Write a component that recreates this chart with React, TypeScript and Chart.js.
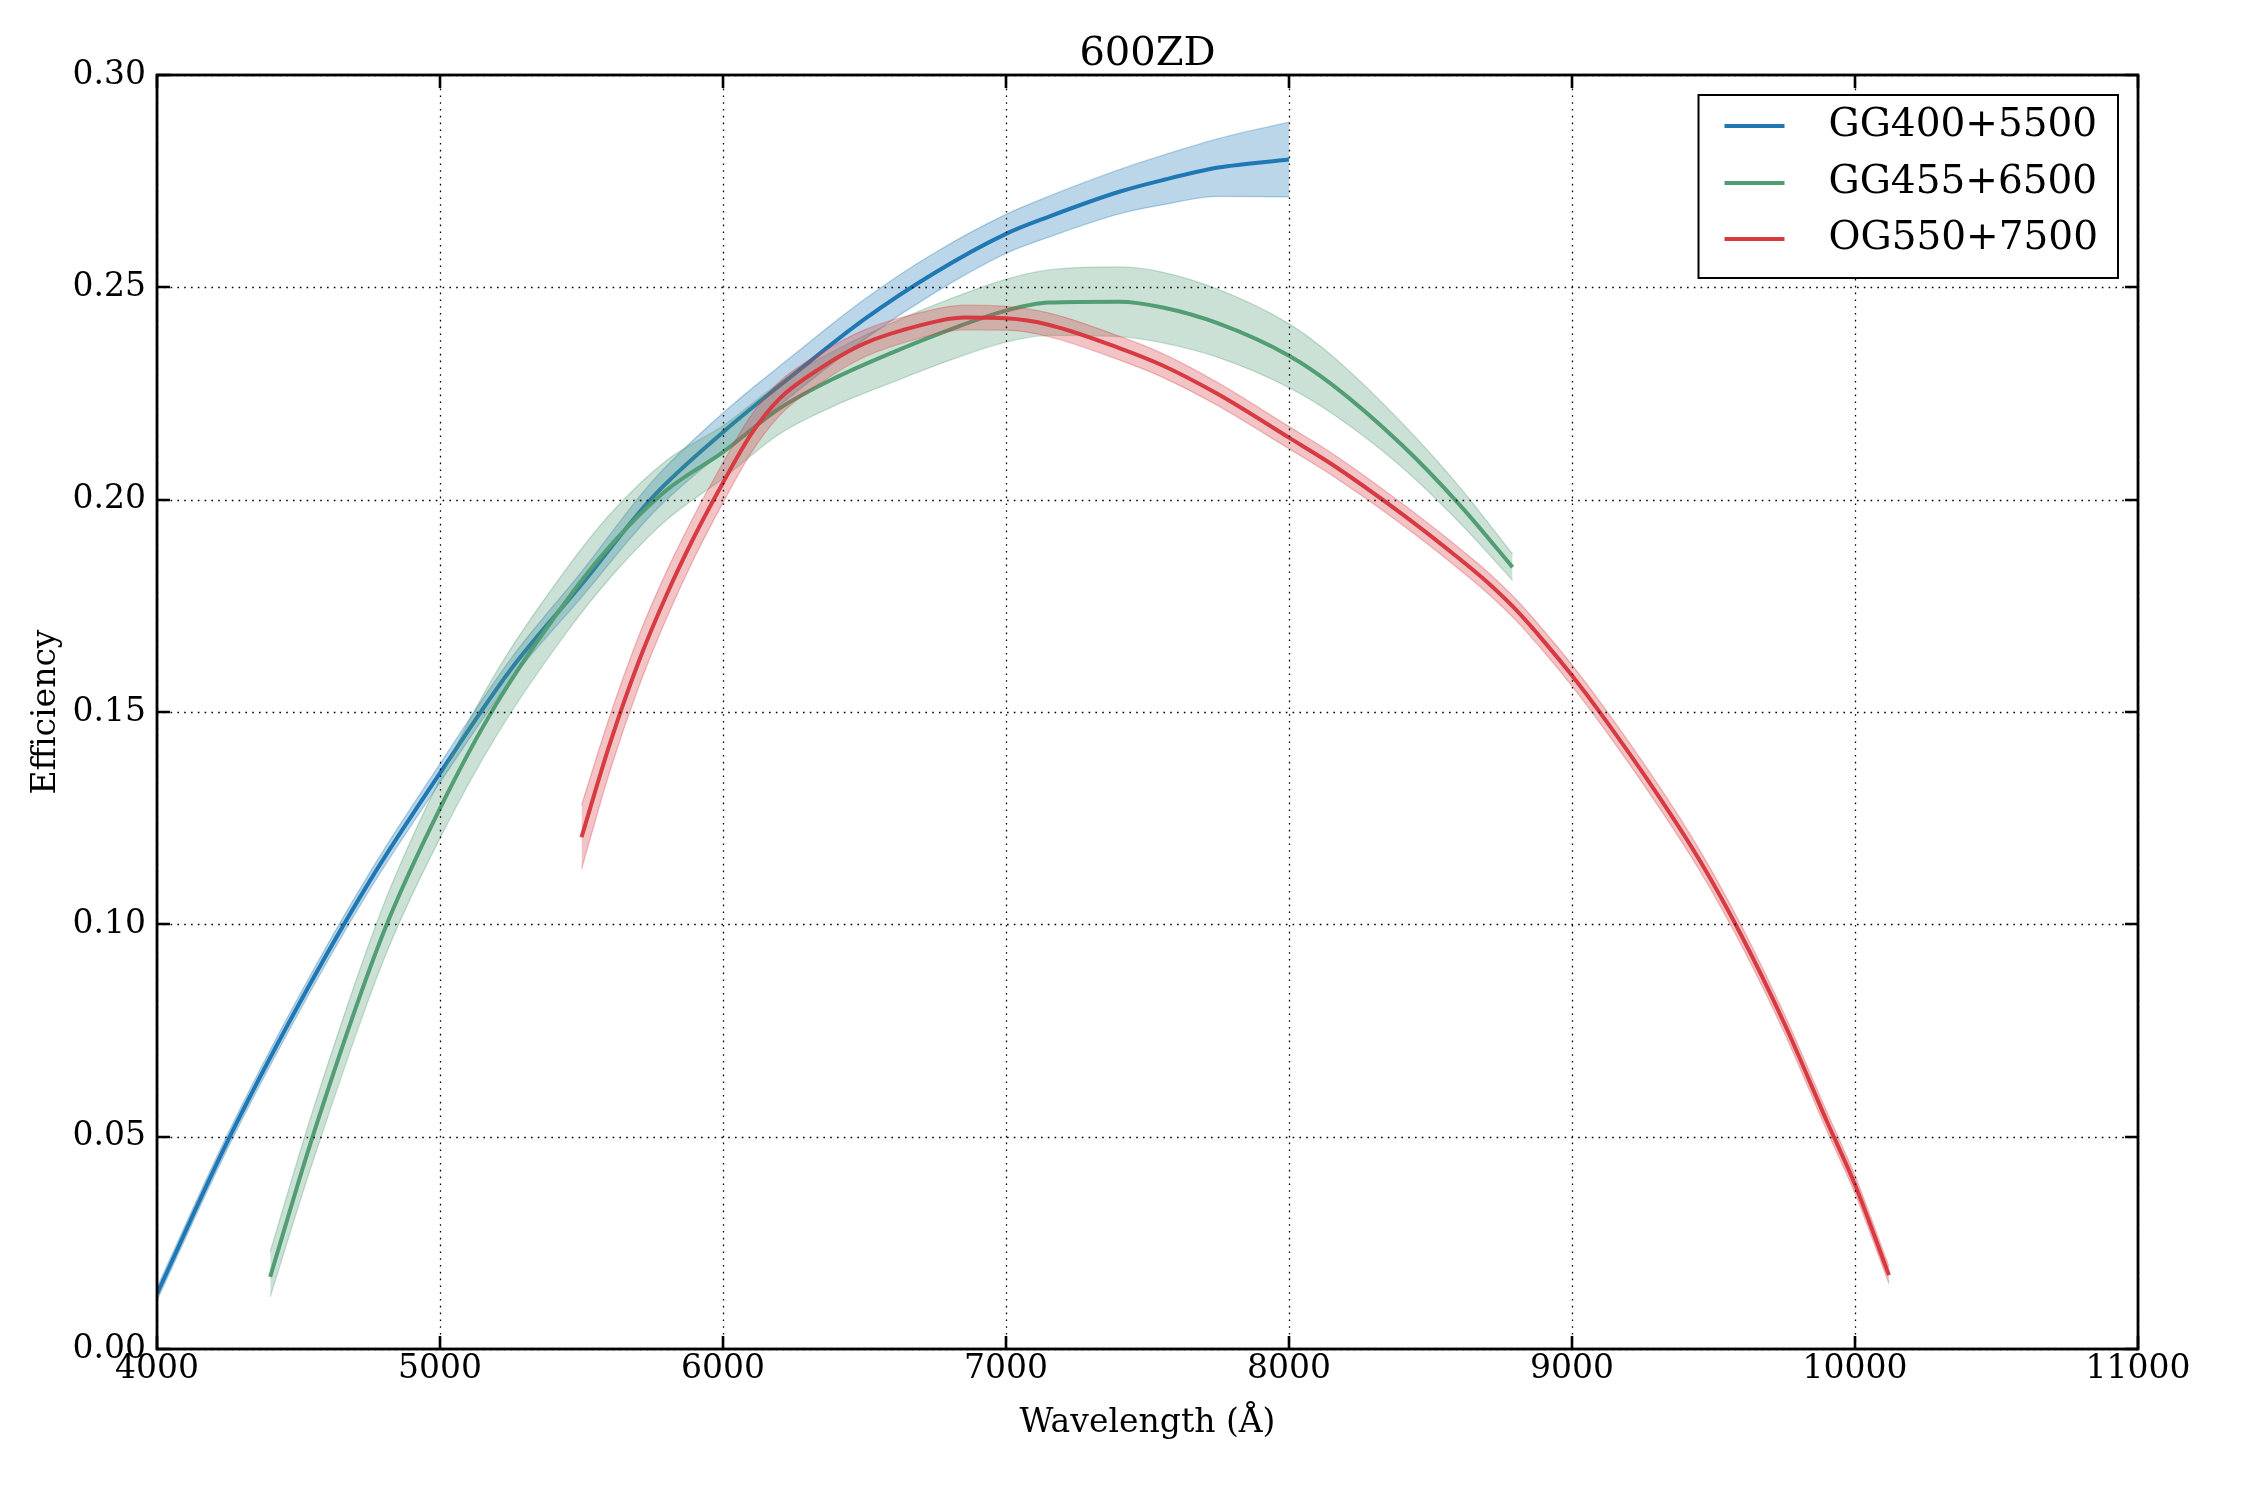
import React, { useEffect, useRef } from "react";
import { Chart, registerables } from "chart.js";

Chart.register(...registerables);

const TITLE = "600ZD";
const X_LABEL = "Wavelength (Å)";
const Y_LABEL = "Efficiency";
const SERIES_NAMES = ["GG400+5500", "GG455+6500", "OG550+7500"];
const LINE_COLORS = ["#1f77b4", "#529d74", "#d73a41"];
const BAND_COLORS = ["rgba(31,119,180,0.3)", "rgba(82,157,116,0.3)", "rgba(215,58,65,0.3)"];
const EDGE_COLORS = ["rgba(31,119,180,0.32)", "rgba(82,157,116,0.32)", "rgba(215,58,65,0.32)"];

const X_MIN = 4000;
const X_MAX = 11000;
const X_STEP = 1000;
const Y_MIN = 0;
const Y_MAX = 0.3;
const Y_STEP = 0.05;

// GG400+5500
const blueWavelength = [4000, 4250, 4500, 4750, 5000, 5250, 5500, 5750, 6000, 6250, 6500, 6750, 7000, 7150, 7400, 7550, 7750, 8000];
const blueEfficiency = [0.013, 0.049, 0.081, 0.11, 0.1356, 0.16, 0.18, 0.2005, 0.2159, 0.2295, 0.2425, 0.2535, 0.2626, 0.2666, 0.2725, 0.2752, 0.2782, 0.2801];
const blueUpper = [0.0145, 0.0507, 0.0829, 0.112, 0.1378, 0.1625, 0.183, 0.2043, 0.2204, 0.2341, 0.2472, 0.2582, 0.2672, 0.2714, 0.2777, 0.281, 0.285, 0.2889];
const blueLower = [0.0115, 0.0473, 0.0791, 0.108, 0.1334, 0.1575, 0.177, 0.1967, 0.2114, 0.2249, 0.2378, 0.2488, 0.258, 0.2618, 0.2673, 0.2694, 0.2714, 0.2713];

// GG455+6500
const greenWavelength = [4400, 4550, 4800, 5000, 5200, 5450, 5600, 5800, 6000, 6200, 6400, 6600, 6800, 7000, 7150, 7400, 7550, 7750, 8000, 8150, 8400, 8600, 8790];
const greenEfficiency = [0.017, 0.05, 0.098, 0.1273, 0.152, 0.1765, 0.189, 0.2022, 0.2112, 0.2215, 0.2288, 0.2347, 0.24, 0.2445, 0.2464, 0.2466, 0.2453, 0.2415, 0.2339, 0.2272, 0.2128, 0.199, 0.1841];
const greenUpper = [0.0229, 0.056, 0.1045, 0.1343, 0.1595, 0.184, 0.1965, 0.2092, 0.2174, 0.2275, 0.2353, 0.2417, 0.2472, 0.2519, 0.2541, 0.2548, 0.2536, 0.2495, 0.2414, 0.234, 0.218, 0.2032, 0.1872];
const greenLower = [0.0123, 0.044, 0.0915, 0.1203, 0.1445, 0.169, 0.1815, 0.1952, 0.205, 0.2155, 0.2223, 0.2277, 0.2328, 0.2371, 0.2387, 0.2384, 0.237, 0.2335, 0.2264, 0.2204, 0.2076, 0.1948, 0.181];

// OG550+7500
const redWavelength = [5500, 5600, 5700, 5800, 5900, 6000, 6100, 6200, 6350, 6500, 6700, 6850, 7000, 7150, 7400, 7550, 7750, 8000, 8150, 8400, 8600, 8700, 8800, 8900, 9000, 9100, 9300, 9450, 9600, 9750, 9900, 10000, 10120];
const redEfficiency = [0.1205, 0.1425, 0.1615, 0.1775, 0.1915, 0.204, 0.2155, 0.2238, 0.2312, 0.2368, 0.2411, 0.2429, 0.2427, 0.2412, 0.2357, 0.2317, 0.2248, 0.2146, 0.2084, 0.1966, 0.1862, 0.1806, 0.1742, 0.1667, 0.1586, 0.1498, 0.1308, 0.1152, 0.0972, 0.0767, 0.0537, 0.0387, 0.0174];
const redUpper = [0.128, 0.149, 0.1675, 0.183, 0.1965, 0.2087, 0.2199, 0.2278, 0.2347, 0.24, 0.2441, 0.2458, 0.2455, 0.244, 0.2385, 0.2345, 0.2275, 0.2172, 0.211, 0.1991, 0.1887, 0.1831, 0.1767, 0.1692, 0.1611, 0.1523, 0.1333, 0.1176, 0.0995, 0.0789, 0.0559, 0.0408, 0.0194];
const redLower = [0.113, 0.136, 0.1555, 0.172, 0.1865, 0.1993, 0.2111, 0.2198, 0.2277, 0.2336, 0.2381, 0.24, 0.2399, 0.2384, 0.2329, 0.2289, 0.2221, 0.212, 0.2058, 0.1941, 0.1837, 0.1781, 0.1717, 0.1642, 0.1561, 0.1473, 0.1283, 0.1128, 0.0949, 0.0745, 0.0515, 0.0366, 0.0154];

const SERIES = [
  { wl: blueWavelength, mean: blueEfficiency, upper: blueUpper, lower: blueLower },
  { wl: greenWavelength, mean: greenEfficiency, upper: greenUpper, lower: greenLower },
  { wl: redWavelength, mean: redEfficiency, upper: redUpper, lower: redLower },
];

const FONT = '"DejaVu Serif", serif';

const toPoints = (xs: number[], ys: number[]) => xs.map((x, i) => ({ x, y: ys[i] }));

const framePlugin = {
  id: "frame",
  afterDatasetsDraw(chart: any) {
    const { ctx, chartArea: a, scales } = chart;
    const xs = scales.x;
    const ys = scales.y;
    ctx.save();
    // dotted grid
    ctx.strokeStyle = "#000";
    ctx.lineWidth = 1.3;
    ctx.setLineDash([1.6, 5.2]);
    xs.ticks.forEach((t: any) => {
      const px = Math.round(xs.getPixelForValue(t.value)) + 0.5;
      ctx.beginPath();
      ctx.moveTo(px, a.top);
      ctx.lineTo(px, a.bottom);
      ctx.stroke();
    });
    ys.ticks.forEach((t: any) => {
      const py = Math.round(ys.getPixelForValue(t.value)) + 0.5;
      ctx.beginPath();
      ctx.moveTo(a.left, py);
      ctx.lineTo(a.right, py);
      ctx.stroke();
    });
    ctx.setLineDash([]);
    // inward ticks
    ctx.lineWidth = 2.6;
    const TL = 13;
    xs.ticks.forEach((t: any) => {
      const px = Math.round(xs.getPixelForValue(t.value));
      ctx.beginPath();
      ctx.moveTo(px, a.bottom);
      ctx.lineTo(px, a.bottom - TL);
      ctx.moveTo(px, a.top);
      ctx.lineTo(px, a.top + TL);
      ctx.stroke();
    });
    ys.ticks.forEach((t: any) => {
      const py = Math.round(ys.getPixelForValue(t.value));
      ctx.beginPath();
      ctx.moveTo(a.left, py);
      ctx.lineTo(a.left + TL, py);
      ctx.moveTo(a.right, py);
      ctx.lineTo(a.right - TL, py);
      ctx.stroke();
    });
    // spines
    ctx.lineWidth = 2.8;
    ctx.strokeRect(a.left, a.top, a.right - a.left, a.bottom - a.top);
    // title
    ctx.fillStyle = "#000";
    ctx.font = `40px ${FONT}`;
    ctx.textAlign = "center";
    ctx.textBaseline = "alphabetic";
    ctx.fillText(TITLE, (a.left + a.right) / 2, a.top - 10);
    // legend
    const mains = chart.data.datasets.filter((d: any) => d.isMain);
    ctx.font = `39px ${FONT}`;
    let maxW = 0;
    mains.forEach((d: any) => {
      maxW = Math.max(maxW, ctx.measureText(d.label).width);
    });
    const padL = 26;
    const lineLen = 60;
    const gap = 44;
    const padR = 20;
    const boxW = padL + lineLen + gap + maxW + padR;
    const boxH = 183;
    const boxRight = a.right - 20;
    const boxLeft = boxRight - boxW;
    const boxTop = a.top + 20;
    ctx.fillStyle = "#fff";
    ctx.fillRect(boxLeft, boxTop, boxW, boxH);
    ctx.strokeStyle = "#000";
    ctx.lineWidth = 2;
    ctx.strokeRect(boxLeft, boxTop, boxW, boxH);
    const rows = [31, 88, 144];
    mains.forEach((d: any, i: number) => {
      const y = boxTop + rows[i];
      ctx.strokeStyle = d.borderColor;
      ctx.lineWidth = 4;
      ctx.beginPath();
      ctx.moveTo(boxLeft + padL, y);
      ctx.lineTo(boxLeft + padL + lineLen, y);
      ctx.stroke();
      ctx.fillStyle = "#000";
      ctx.textAlign = "left";
      ctx.textBaseline = "middle";
      ctx.fillText(d.label, boxLeft + padL + lineLen + gap, y);
    });
    ctx.restore();
  },
};

export default function App() {
  const canvasRef = useRef<HTMLCanvasElement | null>(null);

  useEffect(() => {
    const canvas = canvasRef.current;
    if (!canvas) return;
    const datasets: any[] = [];
    SERIES.forEach((s, i) => {
      const bandOrder = 6 - 2 * i;
      const lineOrder = 5 - 2 * i;
      datasets.push({
        label: SERIES_NAMES[i] + " lower",
        data: toPoints(s.wl, s.lower),
        borderColor: EDGE_COLORS[i],
        borderWidth: 1.3,
        pointRadius: 0,
        fill: false,
        cubicInterpolationMode: "monotone",
        order: bandOrder,
      });
      datasets.push({
        label: SERIES_NAMES[i] + " upper",
        data: toPoints(s.wl, s.upper),
        borderColor: EDGE_COLORS[i],
        backgroundColor: BAND_COLORS[i],
        borderWidth: 1.3,
        pointRadius: 0,
        fill: "-1",
        cubicInterpolationMode: "monotone",
        order: bandOrder,
      });
      datasets.push({
        label: SERIES_NAMES[i],
        isMain: true,
        data: toPoints(s.wl, s.mean),
        borderColor: LINE_COLORS[i],
        borderWidth: 4,
        pointRadius: 0,
        fill: false,
        cubicInterpolationMode: "monotone",
        order: lineOrder,
      });
    });

    const chart = new Chart(canvas, {
      type: "line",
      data: { datasets },
      plugins: [framePlugin],
      options: {
        responsive: false,
        maintainAspectRatio: false,
        devicePixelRatio: 1,
        animation: false,
        layout: { padding: { left: 0, top: 75, right: 112, bottom: 0 } },
        plugins: {
          legend: { display: false },
          tooltip: { enabled: false },
          title: { display: false },
        },
        scales: {
          x: {
            type: "linear",
            min: X_MIN,
            max: X_MAX,
            grid: { display: false, drawTicks: false },
            border: { display: false },
            ticks: {
              stepSize: X_STEP,
              autoSkip: false,
              maxRotation: 0,
              padding: 1,
              color: "#000",
              font: { family: FONT, size: 33 },
              callback: (v: any) => String(v),
            },
            title: {
              display: true,
              text: X_LABEL,
              color: "#000",
              font: { family: FONT, size: 33 },
              padding: { top: 0, bottom: 57 },
            },
            afterFit: (scale: any) => {
              scale.height = 151;
            },
          },
          y: {
            type: "linear",
            min: Y_MIN,
            max: Y_MAX,
            grid: { display: false, drawTicks: false },
            border: { display: false },
            ticks: {
              stepSize: Y_STEP,
              padding: 11,
              color: "#000",
              font: { family: FONT, size: 33 },
              callback: (v: any) => Number(v).toFixed(2),
            },
            title: {
              display: true,
              text: Y_LABEL,
              color: "#000",
              font: { family: FONT, size: 33 },
              padding: { top: 27, bottom: 0 },
            },
            afterFit: (scale: any) => {
              scale.width = 157;
            },
          },
        },
      },
    } as any);

    return () => {
      chart.destroy();
    };
  }, []);

  return (
    <div style={{ position: "fixed", left: 0, top: 0, width: 2250, height: 1500, background: "#fff" }}>
      <canvas ref={canvasRef} width={2250} height={1500} style={{ width: 2250, height: 1500, display: "block" }} />
    </div>
  );
}
